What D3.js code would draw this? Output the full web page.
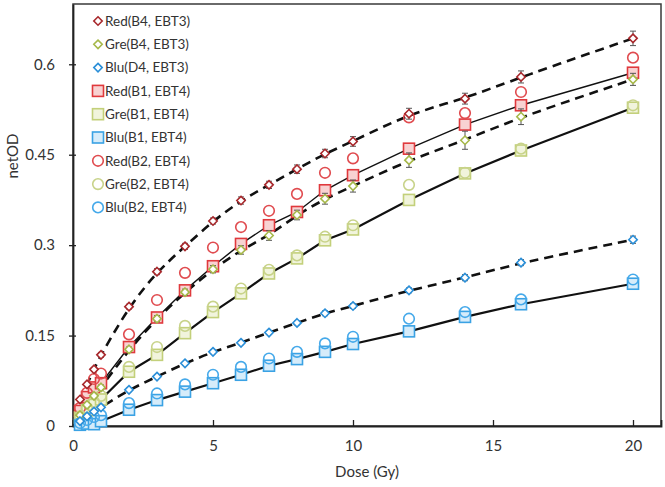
<!DOCTYPE html>
<html><head><meta charset="utf-8">
<script src="https://cdn.jsdelivr.net/npm/d3@7"></script>
<style>body{margin:0;background:#fff}svg{display:block}</style>
</head><body>
<svg id="c" width="665" height="487"></svg>
<script>
const dose = [0.25, 0.5, 0.75, 1, 2, 3, 4, 5, 6, 7, 8, 9, 10, 12, 14, 16, 20];

const redEBT3 = [0.044, 0.069, 0.094, 0.118, 0.198, 0.256, 0.298, 0.340, 0.374, 0.400, 0.426, 0.452, 0.472, 0.518, 0.543, 0.579, 0.643];
const greEBT3 = [0.018, 0.035, 0.050, 0.064, 0.127, 0.178, 0.222, 0.260, 0.292, 0.316, 0.350, 0.377, 0.398, 0.441, 0.474, 0.513, 0.575];
const bluEBT3 = [0.008, 0.016, 0.024, 0.031, 0.060, 0.082, 0.104, 0.123, 0.138, 0.155, 0.171, 0.187, 0.199, 0.225, 0.246, 0.271, 0.309];
const redEBT3err = [0.003, 0.003, 0.003, 0.004, 0.004, 0.005, 0.005, 0.005, 0.006, 0.006, 0.007, 0.007, 0.008, 0.009, 0.009, 0.010, 0.012];
const greEBT3err = [0.003, 0.003, 0.003, 0.004, 0.004, 0.005, 0.005, 0.006, 0.007, 0.008, 0.008, 0.009, 0.010, 0.012, 0.015, 0.013, 0.010];
const bluEBT3err = [0.002, 0.002, 0.002, 0.003, 0.003, 0.003, 0.003, 0.003, 0.003, 0.003, 0.003, 0.004, 0.004, 0.004, 0.005, 0.005, 0.006];

const redB1 = [0.025, 0.048, 0.064, 0.071, 0.131, 0.180, 0.225, 0.265, 0.302, 0.333, 0.355, 0.391, 0.416, 0.460, 0.500, 0.532, 0.586];
const greB1 = [0.014, 0.026, 0.035, 0.044, 0.090, 0.118, 0.154, 0.189, 0.220, 0.253, 0.278, 0.308, 0.326, 0.375, 0.419, 0.457, 0.528];
const bluB1 = [0.002, 0.004, 0.003, 0.008, 0.027, 0.043, 0.057, 0.071, 0.085, 0.100, 0.111, 0.123, 0.136, 0.157, 0.181, 0.202, 0.236];

const redB2 = [0.030, 0.055, 0.078, 0.087, 0.152, 0.209, 0.254, 0.296, 0.330, 0.357, 0.385, 0.420, 0.444, 0.512, 0.519, 0.554, 0.611];
const greB2 = [0.016, 0.030, 0.040, 0.050, 0.098, 0.131, 0.166, 0.198, 0.228, 0.259, 0.283, 0.314, 0.333, 0.400, 0.420, 0.460, 0.532];
const bluB2 = [0.005, 0.010, 0.015, 0.018, 0.038, 0.054, 0.069, 0.085, 0.098, 0.112, 0.123, 0.137, 0.148, 0.178, 0.189, 0.210, 0.243];

const xTicks = [0, 5, 10, 15, 20];
const yTicks = [0, 0.15, 0.3, 0.45, 0.6];

const series = [
  {name: "Red(B4, EBT3)", v: redEBT3, err: redEBT3err, shape: "diamond", color: "#a8282c", fill: "#fff", line: "dash", lw: 2.6},
  {name: "Gre(B4, EBT3)", v: greEBT3, err: greEBT3err, shape: "diamond", color: "#a6b84a", fill: "#fff", line: "dash", lw: 2.6},
  {name: "Blu(D4, EBT3)", v: bluEBT3, err: bluEBT3err, shape: "diamond", color: "#2b8fd8", fill: "#fff", line: "dash", lw: 2.6},
  {name: "Red(B1, EBT4)", v: redB1, shape: "square", color: "#e0393d", fill: "#f8d2d2", line: "solid", lw: 1.4},
  {name: "Gre(B1, EBT4)", v: greB1, shape: "square", color: "#c3d07a", fill: "#f1f4dc", line: "solid", lw: 2.2},
  {name: "Blu(B1, EBT4)", v: bluB1, shape: "square", color: "#3aa2e4", fill: "#d6ecfa", line: "solid", lw: 2.2},
  {name: "Red(B2, EBT4)", v: redB2, shape: "circle", color: "#e04b4f", fill: "none", line: null},
  {name: "Gre(B2, EBT4)", v: greB2, shape: "circle", color: "#c8d38a", fill: "none", line: null},
  {name: "Blu(B2, EBT4)", v: bluB2, shape: "circle", color: "#45a9ea", fill: "none", line: null}
];

const svg = d3.select("#c");
const L = 73, R = 661, T = 4, B = 426;
const x = d3.scaleLinear().domain([0, 21]).range([L, R]);
const y = d3.scaleLinear().domain([0, 0.7]).range([B, T]);
const font = "Lato, 'Open Sans', sans-serif";

// frame
svg.append("rect").attr("x", L).attr("y", T).attr("width", R - L).attr("height", B - T)
  .attr("fill", "none").attr("stroke", "#3a3a3a").attr("stroke-width", 1.5);

// axes
const xa = svg.append("g").attr("transform", `translate(0,${B})`)
  .call(d3.axisBottom(x).tickValues(xTicks).tickSize(-6).tickPadding(14).tickFormat(d3.format("d")));
const ya = svg.append("g").attr("transform", `translate(${L},0)`)
  .call(d3.axisLeft(y).tickValues(yTicks).tickSizeInner(-4).tickSizeOuter(0).tickPadding(18).tickFormat(d => d === 0 ? "0" : String(d)));
[xa, ya].forEach(g => {
  g.select(".domain").attr("stroke", "#222").attr("stroke-width", 1.8);
  g.selectAll(".tick line").attr("stroke", "#222").attr("stroke-width", 1.3);
  g.selectAll(".tick text").attr("fill", "#333").style("font-family", font).style("font-size", "15px");
});
ya.selectAll(".tick line").attr("x1", -4).attr("x2", 3);

// axis titles
svg.append("text").attr("x", (L + R) / 2).attr("y", 477).attr("text-anchor", "middle")
  .attr("fill", "#333").style("font-family", font).style("font-size", "15px").text("Dose (Gy)");
svg.append("text").attr("transform", "translate(18,156) rotate(-90)").attr("text-anchor", "middle")
  .attr("fill", "#333").style("font-family", font).style("font-size", "15px").text("netOD");

// lines
series.forEach(s => {
  if (!s.line) return;
  const pts = dose.map((d, i) => [d, s.v[i]]);
  const gen = d3.line().x(p => x(p[0])).y(p => y(p[1]))
    .curve(s.line === "dash" ? d3.curveBasis : d3.curveLinear);
  svg.append("path").datum(pts).attr("d", gen).attr("fill", "none")
    .attr("stroke", "#111").attr("stroke-width", s.lw)
    .attr("stroke-dasharray", s.line === "dash" ? "9,6" : null);
});

function drawMarker(g, shape, cx, cy, s) {
  if (shape === "diamond") {
    g.append("path").attr("d", `M${cx},${cy - 4.2}L${cx + 4.2},${cy}L${cx},${cy + 4.2}L${cx - 4.2},${cy}Z`)
      .attr("fill", s.fill).attr("stroke", s.color).attr("stroke-width", 1.6);
  } else if (shape === "square") {
    g.append("rect").attr("x", cx - 5.5).attr("y", cy - 5.5).attr("width", 11).attr("height", 11)
      .attr("fill", s.fill).attr("stroke", s.color).attr("stroke-width", 1.6);
  } else {
    g.append("circle").attr("cx", cx).attr("cy", cy).attr("r", 5.3)
      .attr("fill", s.fill).attr("stroke", s.color).attr("stroke-width", 1.6);
  }
}

// markers: draw order squares, circles, then diamonds on top
const order = [3, 4, 5, 6, 7, 8, 0, 1, 2];
order.forEach(k => {
  const s = series[k];
  const g = svg.append("g");
  dose.forEach((d, i) => {
    const cx = x(d), cy = y(s.v[i]);
    if (s.err) {
      const e = s.err[i];
      const eg = g.append("g").attr("stroke", "#555").attr("stroke-width", 1);
      eg.append("line").attr("x1", cx).attr("x2", cx).attr("y1", y(s.v[i] + e)).attr("y2", y(s.v[i] - e));
      eg.append("line").attr("x1", cx - 3).attr("x2", cx + 3).attr("y1", y(s.v[i] + e)).attr("y2", y(s.v[i] + e));
      eg.append("line").attr("x1", cx - 3).attr("x2", cx + 3).attr("y1", y(s.v[i] - e)).attr("y2", y(s.v[i] - e));
    }
    drawMarker(g, s.shape, cx, cy, s);
  });
});

// legend
const lg = svg.append("g");
series.forEach((s, i) => {
  const ly = 21 + i * 23.3;
  drawMarker(lg, s.shape, 98, ly, s);
  lg.append("text").attr("x", 105).attr("y", ly).attr("dy", "0.35em")
    .attr("fill", "#333").style("font-family", font).style("font-size", "13.5px").text(s.name);
});
</script>
</body></html>
